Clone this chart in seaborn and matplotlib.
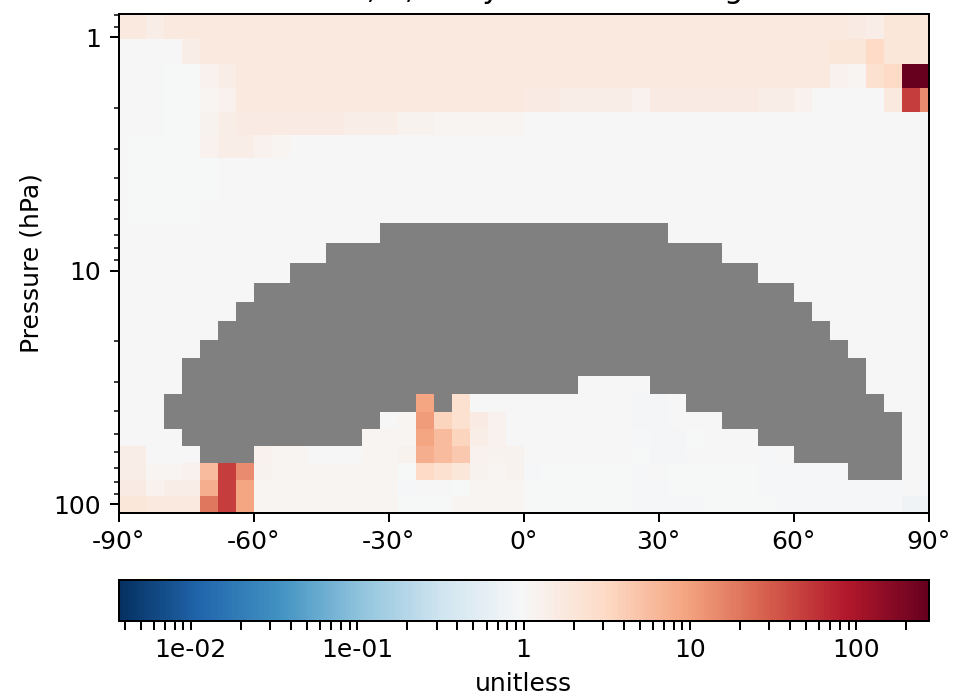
import numpy as np
import matplotlib
matplotlib.use('Agg')
import matplotlib.pyplot as plt
import seaborn as sns
from matplotlib.colors import LogNorm

# latitude cell edges of the 4x5 grid (half-size polar boxes)
lat_edges = [-90] + list(range(-88, 89, 4)) + [90]

# pressure level edges (hPa), top of plot to bottom
pressure_edges = [0.7951, 1.0194, 1.3005, 1.6508, 2.0850, 2.6202, 3.2764,
                  4.0766, 5.0468, 6.2168, 7.6198, 9.2929, 11.2769, 13.6434,
                  16.4571, 19.7916, 23.7304, 28.3678, 33.8100, 40.1754,
                  47.6439, 56.3879, 66.6034, 78.5123, 92.3657, 108.663]

# ratio, one code per cell ('.' = no data)
codes = {'.': np.nan, 'v': 0.80, '~': 0.88, '=': 0.93, '-': 0.97, '0': 1.0,
         '1': 1.1, '2': 1.2, '3': 1.3, '4': 1.45, '5': 1.6, '6': 1.75,
         '7': 2.0, '8': 2.5, '9': 3.0, 'a': 3.5, 'b': 4.5, 'c': 6.0,
         'd': 7.5, 'e': 9.0, 'f': 11.0, 'g': 14.0, 'h': 20.0, 'i': 48.0,
         'm': 272.0}

rows = [
    "664" + "6" * 38 + "54777",
    "0000" + "4" + "6" * 35 + "77" + "9" + "7" + "77",
    "000--34" + "6" * 33 + "31" + "89" + "mm",
    "000--13" + "6" * 16 + "55" + "4444" + "3" + "555555" + "44" + "3" + "0000" + "6ig",
    "000--24" + "555555" + "4" + "44" + "22" + "11111" + "0" * 23,
    "0----34431" + "0" * 36,
    "0-----" + "0" * 40,
    "0-----" + "0" * 40,
    "0----" + "0" * 41,
    "0" * 15 + "." * 16 + "0" * 15,
    "0" * 12 + "." * 22 + "0" * 12,
    "0" * 10 + "." * 26 + "0" * 10,
    "0" * 8 + "." * 30 + "0" * 8,
    "0" * 7 + "." * 32 + "0" * 7,
    "0" * 6 + "." * 34 + "0" * 6,
    "0" * 5 + "." * 36 + "0" * 5,
    "0" * 4 + "." * 38 + "0" * 4,
    "0000" + "." * 22 + "0000" + "." * 12 + "0000",
    "000" + "." * 14 + "e.8" + "0" * 9 + "~~0" + "." * 11 + "000",
    "000" + "." * 12 + "01fa853" + "0" * 7 + "~~000" + "." * 10 + "00",
    "0000" + "." * 10 + "111eca43" + "0" * 7 + "=~~-000" + "." * 8 + "00",
    "44000...3110001" + "12dcb322" + "000000-~~0000=0" + "......00",
    "44113cig2" + "1111111-9872" + "12=-----=0-----=====" + "...00",
    "55344die" + "11111111=00-111" + "------==-----========0=",
    "77666hie" + "11111111---1111" + "------====----=======vv",
]

x_ticks = [-90, -60, -30, 0, 30, 60, 90]
x_labels = ['-90°', '-60°', '-30°', '0°', '30°', '60°', '90°']
cb_ticks = [0.01, 0.1, 1, 10, 100]
cb_labels = ['1e-02', '1e-01', '1', '10', '100']

ratio = np.array([[codes[c] for c in r] for r in rows])
ratio = np.ma.masked_invalid(ratio)

cmap = sns.color_palette("RdBu_r", as_cmap=True).with_extremes(bad='grey')
vmax = np.nanmax(ratio)
norm = LogNorm(vmin=1.0 / vmax, vmax=vmax)

fig = plt.figure(figsize=(955 / 180, 700 / 180), dpi=180)
ax = fig.add_axes([0.1241, 0.2676, 0.8482, 0.7124])
cax = fig.add_axes([0.1241, 0.1129, 0.8482, 0.0586])

mesh = ax.pcolormesh(lat_edges, pressure_edges, ratio, cmap=cmap, norm=norm,
                     shading='flat', antialiased=False, edgecolors='none')
ax.set_yscale('log')
ax.set_xlim(-90, 90)
ax.set_ylim(pressure_edges[-1], pressure_edges[0])
ax.set_yticks([1, 10, 100])
ax.set_yticklabels(['1', '10', '100'])
ax.set_xticks(x_ticks)
ax.set_xticklabels(x_labels)
ax.set_ylabel('Pressure (hPa)')
# the title sits mostly above the top edge of the figure, as in the original
ax.set_title('NOx, 1, Daily Mean Ratio Avg', pad=6.5)

cb = fig.colorbar(mesh, cax=cax, orientation='horizontal')
# every 1..9 step gets a tick of the same length, only decades are labelled
all_ticks = [m * 10.0 ** e for e in range(-3, 3) for m in range(1, 10)]
all_ticks = [t for t in all_ticks if norm.vmin <= t <= norm.vmax]
cb.ax.xaxis.set_minor_locator(matplotlib.ticker.NullLocator())
cb.set_ticks(all_ticks)
cb.set_ticklabels([cb_labels[cb_ticks.index(t)] if t in cb_ticks else ''
                   for t in all_ticks])
cb.set_label('unitless')

fig.savefig('out.png', dpi=180)
